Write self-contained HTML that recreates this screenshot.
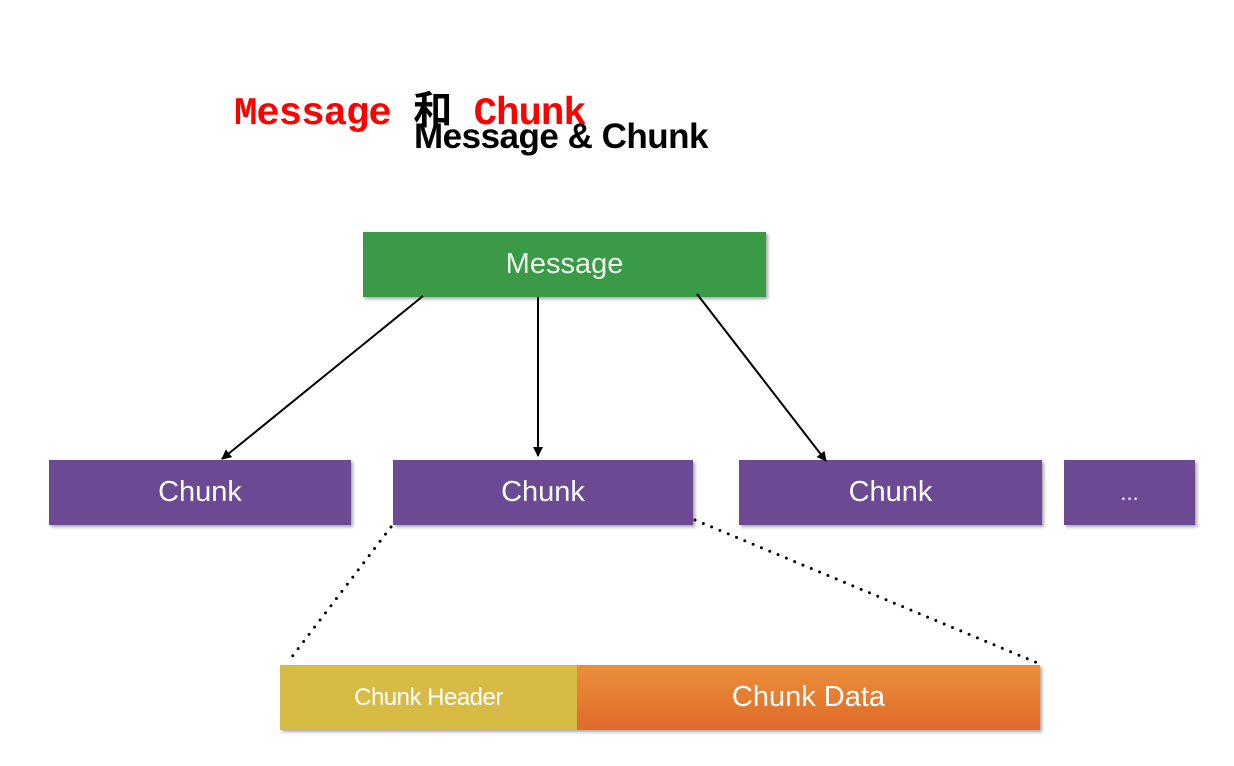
<!DOCTYPE html>
<html><head><meta charset="utf-8"><style>
body{margin:0;width:1234px;height:766px;background:#fff;position:relative;overflow:hidden;font-family:"Liberation Sans",sans-serif}
.b{position:absolute;color:#fff;display:flex;align-items:center;justify-content:center;box-shadow:2px 2px 3px rgba(0,0,0,.35)}
.c{background:#6b4a93;top:460px;height:65px;font-size:29px}
.t{position:absolute;white-space:nowrap}
</style></head><body>
<div class="t" style="left:234px;top:80px;font:bold 39px 'Liberation Mono','Noto Sans CJK SC',monospace;color:#f00;letter-spacing:-1px">Message <span style="color:#000">和</span> Chunk</div>
<div class="t" style="left:414px;top:117px;font:bold 35px 'Liberation Sans',sans-serif;color:#000;letter-spacing:-0.5px">Message &amp; Chunk</div>
<div class="b" style="left:363px;top:232px;width:403px;height:65px;background:#3b9a48;font-size:29px;color:#eef8ee">Message</div>
<div class="b c" style="left:49px;width:302px">Chunk</div>
<div class="b c" style="left:393px;width:300px">Chunk</div>
<div class="b c" style="left:739px;width:303px">Chunk</div>
<div class="b c" style="left:1064px;width:131px;font-size:22px">...</div>
<div class="b" style="left:280px;top:665px;width:297px;height:65px;background:#d8bb45;font-size:24px;letter-spacing:-0.5px">Chunk Header</div>
<div class="b" style="left:577px;top:665px;width:463px;height:65px;background:linear-gradient(#ea8f3a,#e06a2a);font-size:29px">Chunk Data</div>
<svg width="1234" height="766" style="position:absolute;left:0;top:0">
<defs><marker id="a" markerWidth="10" markerHeight="10" refX="9" refY="5" orient="auto" markerUnits="userSpaceOnUse"><path d="M0,0 L10,5 L0,10 z" fill="#000"/></marker></defs>
<g stroke="#000" stroke-width="2">
<line x1="423" y1="296" x2="222" y2="459" marker-end="url(#a)"/>
<line x1="538" y1="297" x2="538" y2="456" marker-end="url(#a)"/>
<line x1="697" y1="294" x2="826" y2="461" marker-end="url(#a)"/>
</g>
<g stroke="#000" stroke-width="3" stroke-linecap="round" stroke-dasharray="0 9">
<line x1="391" y1="527" x2="288" y2="662"/>
<line x1="695" y1="520" x2="1040" y2="664"/>
</g>
</svg>
</body></html>
